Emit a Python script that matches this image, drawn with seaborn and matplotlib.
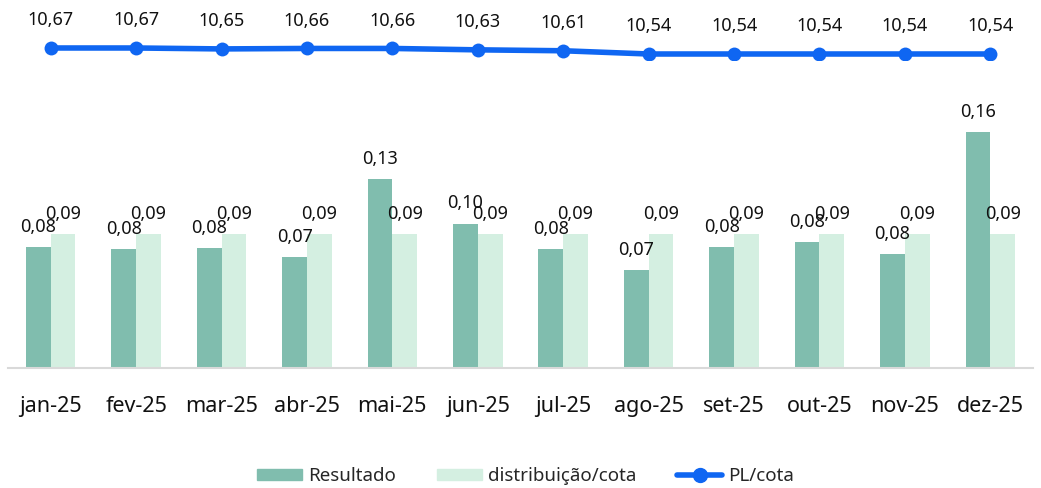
import pandas as pd
import matplotlib.pyplot as plt
import seaborn as sns
from matplotlib.patches import Patch
from matplotlib.lines import Line2D

meses = ['jan-25', 'fev-25', 'mar-25', 'abr-25', 'mai-25', 'jun-25',
         'jul-25', 'ago-25', 'set-25', 'out-25', 'nov-25', 'dez-25']
resultado = [0.081, 0.080, 0.0805, 0.0745, 0.127, 0.097, 0.080, 0.066, 0.081, 0.0845, 0.0765, 0.1585]
distribuicao = [0.09] * 12
pl_cota = [10.67, 10.67, 10.65, 10.66, 10.66, 10.63, 10.61, 10.54, 10.54, 10.54, 10.54, 10.54]

cor_res = '#80bdae'
cor_dist = '#d4efe1'
cor_pl = '#0f66f2'

df = pd.DataFrame({'mes': meses * 2,
                   'valor': resultado + distribuicao,
                   'serie': ['Resultado'] * 12 + ['distribuição/cota'] * 12})

sns.set_style('white')
plt.rcParams['font.family'] = ['Noto Sans', 'DejaVu Sans']

fig = plt.figure(figsize=(10.41, 4.88), dpi=100)
W, H = 1041, 488
# barras: linha de base em y=368, topo em y=100
ax = fig.add_axes([8 / W, (H - 368) / H, 1025 / W, 268 / H])
sns.barplot(data=df, x='mes', y='valor', hue='serie', palette=[cor_res, cor_dist],
            width=0.58, saturation=1, linewidth=0, ax=ax, legend=False)
ax.set_ylim(0, 268 / 1489)
ax.set_xlim(-0.5, 11.5)
ax.set_xlabel('')
ax.set_ylabel('')
ax.set_yticks([])
for s in ['top', 'right', 'left']:
    ax.spines[s].set_visible(False)
ax.spines['bottom'].set_color('#d9d9d9')
ax.spines['bottom'].set_linewidth(1.5)
ax.tick_params(axis='x', length=0, labelsize=15.5, pad=20, colors='#111111')

for cont in ax.containers:
    ax.bar_label(cont, labels=[f'{v:.2f}'.replace('.', ',') for v in cont.datavalues],
                 padding=8, fontsize=13, color='#111111')

# linha PL/cota
ax2 = fig.add_axes([8 / W, (H - 60) / H, 1025 / W, 20 / H])
sns.lineplot(x=list(range(12)), y=pl_cota, ax=ax2, color=cor_pl, linewidth=4,
             marker='o', markersize=10, markeredgewidth=0)
ax2.set_xlim(-0.5, 11.5)
ax2.set_ylim(10.41, 10.843)
ax2.axis('off')
for i, v in enumerate(pl_cota):
    ax2.annotate(f'{v:.2f}'.replace('.', ','), (i, v), xytext=(0, 20), textcoords='offset points',
                 ha='center', va='center', fontsize=13, color='#111111', annotation_clip=False)

handles = [Patch(color=cor_res, label='Resultado'),
           Patch(color=cor_dist, label='distribuição/cota'),
           Line2D([0], [0], color=cor_pl, lw=4, marker='o', markersize=10, label='PL/cota')]
fig.legend(handles=handles, loc='center', bbox_to_anchor=(0.505, 12 / H), ncol=3, frameon=False,
           fontsize=13.5, handlelength=2.4, handleheight=0.5, columnspacing=2.2, handletextpad=0.3)

fig.savefig('out.png', dpi=100)
